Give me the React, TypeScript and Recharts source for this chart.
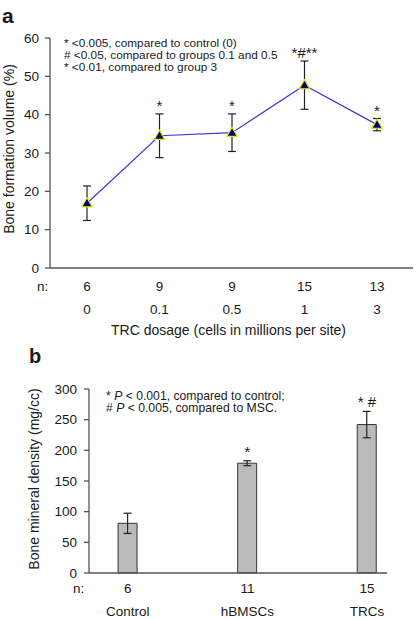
import React from 'react';
import { ComposedChart, Line, Bar, XAxis, YAxis, ErrorBar, LabelList, Label } from 'recharts';

// panel a: bone formation volume vs TRC dose
const doses = ['0', '0.1', '0.5', '1', '3'];
const doseN = [6, 9, 9, 15, 13];
const boneVolume = [16.9, 34.5, 35.3, 47.7, 37.4];
const boneVolumeErr = [4.5, 5.7, 4.9, 6.3, 1.6];
const doseSig = ['', '*', '*', '*#**', '*'];
const volTicks = [0, 10, 20, 30, 40, 50, 60];

// panel b: bone mineral density per group
const groups = ['Control', 'hBMSCs', 'TRCs'];
const groupN = [6, 11, 15];
const bmd = [81, 179, 242];
const bmdErr = [16.5, 4, 21.5];
const groupSig = ['', '*', '* #'];
const bmdTicks = [0, 50, 100, 150, 200, 250, 300];

const FONT = '"Liberation Sans", Arial, Helvetica, sans-serif';
const INK = '#1a1a1a';
const AXIS = '#555';

const doseData = doses.map((d, i) => ({
  dose: d,
  vol: boneVolume[i],
  err: boneVolumeErr[i],
  upper: boneVolume[i] + boneVolumeErr[i],
  sig: doseSig[i],
}));

const groupData = groups.map((g, i) => ({
  pos: i,
  group: g,
  bmd: bmd[i],
  err: bmdErr[i],
  upper: bmd[i] + bmdErr[i],
  sig: groupSig[i],
}));

function Triangle({ cx, cy }: any) {
  if (cx == null || cy == null) return null;
  return (
    <path
      d={`M${cx},${cy - 5.5} L${cx + 5.2},${cy + 3.6} L${cx - 5.2},${cy + 3.6} Z`}
      fill="#00007a"
      stroke="#e8e800"
      strokeWidth={1.2}
    />
  );
}

function DoseTick({ x, y, payload, index }: any) {
  return (
    <g fontFamily={FONT} fontSize={13.5} fill={INK}>
      <text x={x} y={y + 23} textAnchor="middle">{doseN[index]}</text>
      <text x={x} y={y + 46} textAnchor="middle">{payload.value}</text>
    </g>
  );
}

function GroupTick({ x, y, payload }: any) {
  const i = payload.value;
  return (
    <g fontFamily={FONT} fontSize={13.5} fill={INK}>
      <text x={x} y={y + 20} textAnchor="middle">{groupN[i]}</text>
      <text x={x} y={y + 43} textAnchor="middle">{groups[i]}</text>
    </g>
  );
}

const yTitle = (text: string, x: number, shift: number) => (p: any) => {
  const vb = p.viewBox;
  const cy = vb.y + vb.height / 2 + shift;
  return (
    <text
      transform={`translate(${x}, ${cy}) rotate(-90)`}
      textAnchor="middle"
      dominantBaseline="central"
      fontFamily={FONT}
      fontSize={14}
      fill={INK}
    >
      {text}
    </text>
  );
};

export default function App() {
  return (
    <div style={{ position: 'absolute', left: 0, top: 0, width: 417, height: 619, background: '#fff', fontFamily: FONT }}>
      <div style={{ position: 'absolute', left: 0, top: 0 }}>
        <ComposedChart width={417} height={340} data={doseData} margin={{ top: 38, right: 4, bottom: 0, left: 0 }}>
          <XAxis
            dataKey="dose"
            height={72}
            padding={{ left: 37, right: 36 }}
            axisLine={{ stroke: AXIS, strokeWidth: 1.3 }}
            tickLine={false}
            tickSize={0}
            tickMargin={0}
            tick={<DoseTick />}
            interval={0}
          >
            <Label
              content={(p: any) => (
                <text x={p.viewBox.x + p.viewBox.width / 2 - 3} y={p.viewBox.y + 67} textAnchor="middle" fontFamily={FONT} fontSize={14} fill={INK}>
                  TRC dosage (cells in millions per site)
                </text>
              )}
            />
          </XAxis>
          <YAxis
            width={50}
            domain={[0, 60]}
            ticks={volTicks}
            interval={0}
            axisLine={{ stroke: AXIS, strokeWidth: 1.3 }}
            tickLine={{ stroke: AXIS, strokeWidth: 1.3 }}
            tickSize={5}
            tickMargin={6}
            tick={{ fill: INK, fontSize: 13.5, fontFamily: FONT }}
          >
            <Label content={yTitle('Bone formation volume (%)', 9, -4)} />
          </YAxis>
          <Line
            dataKey="vol"
            stroke="#3a3ad8"
            strokeWidth={1.2}
            dot={<Triangle />}
            activeDot={false}
            isAnimationActive={false}
          >
            <ErrorBar dataKey="err" width={4} stroke="#222" strokeWidth={1.2} direction="y" />
          </Line>
          <Line dataKey="upper" stroke="none" dot={false} activeDot={false} isAnimationActive={false}>
            <LabelList dataKey="sig" position="top" offset={3} fill={INK} fontSize={15} fontFamily={FONT} />
          </Line>
        </ComposedChart>
      </div>

      <div style={{ position: 'absolute', left: 0, top: 340 }}>
        <ComposedChart width={417} height={279} data={groupData} margin={{ top: 49, right: 30, bottom: 0, left: 0 }}>
          <XAxis
            dataKey="pos"
            type="number"
            domain={[-0.325, 2.167]}
            ticks={[0, 1, 2]}
            interval={0}
            height={46}
            axisLine={{ stroke: AXIS, strokeWidth: 1.3 }}
            tickLine={false}
            tickSize={0}
            tickMargin={0}
            tick={<GroupTick />}
          />
          <YAxis
            width={89}
            domain={[0, 300]}
            ticks={bmdTicks}
            interval={0}
            axisLine={{ stroke: AXIS, strokeWidth: 1.3 }}
            tickLine={{ stroke: AXIS, strokeWidth: 1.3 }}
            tickSize={5}
            tickMargin={7}
            tick={{ fill: INK, fontSize: 13.5, fontFamily: FONT }}
          >
            <Label content={yTitle('Bone mineral density (mg/cc)', 34, -2)} />
          </YAxis>
          <Bar dataKey="bmd" barSize={19} fill="#bababa" stroke="#333" strokeWidth={1} isAnimationActive={false}>
            <ErrorBar dataKey="err" width={4} stroke="#222" strokeWidth={1.2} direction="y" />
          </Bar>
          <Line dataKey="upper" stroke="none" dot={false} activeDot={false} isAnimationActive={false}>
            <LabelList dataKey="sig" position="top" offset={4} fill={INK} fontSize={15} fontFamily={FONT} />
          </Line>
        </ComposedChart>
      </div>

      <svg width={417} height={619} style={{ position: 'absolute', left: 0, top: 0, pointerEvents: 'none' }} fontFamily={FONT} fill={INK}>
        <text x={2} y={23} fontSize={21} fontWeight="bold">a</text>
        <text x={29} y={363} fontSize={20} fontWeight="bold">b</text>
        <g fontSize={11.8}>
          <text x={64} y={47}>* &lt;0.005, compared to control (0)</text>
          <text x={64} y={58.8}># &lt;0.05, compared to groups 0.1 and 0.5</text>
          <text x={64} y={70.6}>* &lt;0.01, compared to group 3</text>
        </g>
        <g fontSize={12.2}>
          <text x={106} y={399.5}>* <tspan fontStyle="italic">P</tspan> &lt; 0.001, compared to control;</text>
          <text x={106} y={412}># <tspan fontStyle="italic">P</tspan> &lt; 0.005, compared to MSC.</text>
        </g>
        <g fontSize={13.5}>
          <text x={37} y={291}>n:</text>
          <text x={73} y={593}>n:</text>
        </g>
      </svg>
    </div>
  );
}
